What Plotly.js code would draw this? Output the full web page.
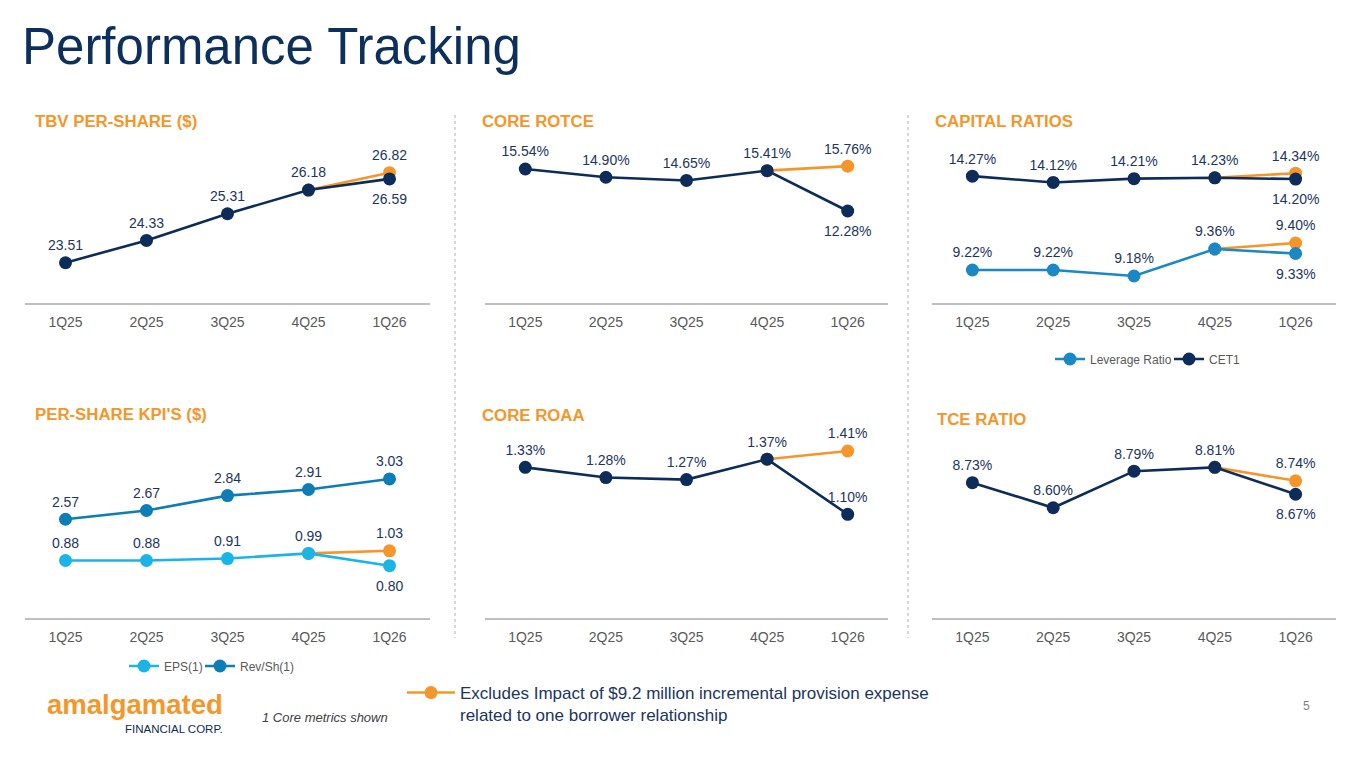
<!DOCTYPE html>
<html>
<head>
<meta charset="utf-8">
<script src="https://cdn.plot.ly/plotly-3.0.1.min.js"></script>
<style>html,body{margin:0;padding:0;background:#fff;}#chart{width:1365px;height:768px;}</style>
</head>
<body>
<div id="chart"></div>
<script>
// ---------- data ----------
const quarters = ['1Q25', '2Q25', '3Q25', '4Q25', '1Q26'];
const exclQuarters = ['4Q25', '1Q26'];

const tbv = [23.51, 24.33, 25.31, 26.18, 26.59];
const tbvExcl = [26.18, 26.82];

const rotce = [15.54, 14.90, 14.65, 15.41, 12.28];
const rotceExcl = [15.41, 15.76];

const cet1 = [14.27, 14.12, 14.21, 14.23, 14.20];
const cet1Excl = [14.23, 14.34];
const leverage = [9.22, 9.22, 9.18, 9.36, 9.33];
const leverageExcl = [9.36, 9.40];

const eps = [0.88, 0.88, 0.91, 0.99, 0.80];
const epsExcl = [0.99, 1.03];
const revSh = [2.57, 2.67, 2.84, 2.91, 3.03];

const roaa = [1.33, 1.28, 1.27, 1.37, 1.10];
const roaaExcl = [1.37, 1.41];

const tce = [8.73, 8.60, 8.79, 8.81, 8.67];
const tceExcl = [8.81, 8.74];

const panelTitles = ['TBV PER-SHARE ($)', 'CORE ROTCE', 'CAPITAL RATIOS', "PER-SHARE KPI'S ($)", 'CORE ROAA', 'TCE RATIO'];
const legendNames = {eps: 'EPS(1)', rev: 'Rev/Sh(1)', lev: 'Leverage Ratio', cet1: 'CET1',
  excl: 'Excludes Impact of $9.2 million incremental provision expense<br>related to one borrower relationship'};

// ---------- style ----------
const W = 1365, H = 768;
const FONT = 'Arial, "Liberation Sans", Helvetica, sans-serif';
const NAVY = '#0d2c59';
const LABEL = '#1c355e';
const ORANGE = '#f5962a';
const EPSC = '#1ab4e8';
const REVC = '#0c7db5';
const LEVC = '#1a88c4';
const GRAY = '#595959';
const px = v => v / W;
const py = v => 1 - v / H;

const colX = [[25, 430], [485, 888], [932, 1336]];
const topY = [303, 140];
const botY = [618, 430];

const annotations = [];

function line(xa, ya, xs, ys, color, fmt, labelBelowLast, opts) {
  const n = xs.length;
  const tmpl = xs.map((q, i) => (labelBelowLast && i === n - 1) ? '' : fmt);
  if (labelBelowLast) {
    // value label placed under the final point, positioned in data coordinates
    annotations.push({
      xref: xa, yref: ya, x: xs[n - 1], y: ys[n - 1], yshift: -20,
      text: fmt.replace('%{y:.2f}', ys[n - 1].toFixed(2)),
      showarrow: false, xanchor: 'center', yanchor: 'middle',
      font: {family: FONT, size: 14, color: LABEL}
    });
  }
  return Object.assign({
    type: 'scatter', mode: 'lines+markers+text',
    x: xs, y: ys, xaxis: xa, yaxis: ya,
    line: {color: color, width: 2.6},
    marker: {color: color, size: 13},
    texttemplate: tmpl, textposition: 'top center',
    textfont: {family: FONT, size: 14, color: LABEL},
    cliponaxis: false, showlegend: false, hoverinfo: 'skip'
  }, opts || {});
}
const pct = '%{y:.2f}%', dol = '%{y:.2f}';
const exclFmt = f => ['', f];

const traces = [
  // TBV
  line('x', 'y', exclQuarters, tbvExcl, ORANGE, dol, false, {texttemplate: exclFmt(dol)}),
  line('x', 'y', quarters, tbv, NAVY, dol, true),
  // ROTCE
  line('x2', 'y2', exclQuarters, rotceExcl, ORANGE, pct, false, {texttemplate: exclFmt(pct)}),
  line('x2', 'y2', quarters, rotce, NAVY, pct, true),
  // Capital ratios
  line('x3', 'y4', exclQuarters, leverageExcl, ORANGE, pct, false, {texttemplate: exclFmt(pct)}),
  line('x3', 'y4', quarters, leverage, LEVC, pct, true, {name: legendNames.lev, showlegend: true, legend: 'legend'}),
  line('x3', 'y3', exclQuarters, cet1Excl, ORANGE, pct, false, {texttemplate: exclFmt(pct)}),
  line('x3', 'y3', quarters, cet1, NAVY, pct, true, {name: legendNames.cet1, showlegend: true, legend: 'legend'}),
  // Per-share KPIs
  line('x5', 'y6', exclQuarters, epsExcl, ORANGE, dol, false, {texttemplate: exclFmt(dol), name: legendNames.excl, showlegend: true, legend: 'legend3'}),
  line('x5', 'y6', quarters, eps, EPSC, dol, true, {name: legendNames.eps, showlegend: true, legend: 'legend2'}),
  line('x5', 'y5', quarters, revSh, REVC, dol, false, {name: legendNames.rev, showlegend: true, legend: 'legend4'}),
  // ROAA
  line('x7', 'y7', exclQuarters, roaaExcl, ORANGE, pct, false, {texttemplate: exclFmt(pct)}),
  line('x7', 'y7', quarters, roaa, NAVY, pct, false),
  // TCE
  line('x8', 'y8', exclQuarters, tceExcl, ORANGE, pct, false, {texttemplate: exclFmt(pct)}),
  line('x8', 'y8', quarters, tce, NAVY, pct, true)
];

function xax(col, anchor) {
  return {
    domain: [px(colX[col][0]), px(colX[col][1])], anchor: anchor,
    type: 'category', categoryorder: 'array', categoryarray: quarters,
    range: [-0.5, 4.5], fixedrange: true,
    showline: true, linecolor: '#bfbfbf', linewidth: 1.5,
    showgrid: false, zeroline: false,
    ticks: 'outside', ticklen: 6, tickcolor: 'rgba(0,0,0,0)',
    tickfont: {family: FONT, size: 14, color: GRAY}
  };
}
function yax(row, anchor, range, overlay) {
  const d = row === 0 ? topY : botY;
  const a = {
    domain: [py(d[0]), py(d[1])], anchor: anchor, range: range,
    visible: false, showgrid: false, zeroline: false, fixedrange: true
  };
  if (overlay) { a.overlaying = overlay; delete a.domain; }
  return a;
}

function ann(text, x, y, size, color, extra) {
  annotations.push(Object.assign({
    text: text, x: px(x), y: py(y), xref: 'paper', yref: 'paper',
    xanchor: 'left', yanchor: 'middle', showarrow: false,
    font: {family: FONT, size: size, color: color}
  }, extra || {}));
}
const titleFont = {family: FONT, size: 16.8, color: ORANGE, weight: 700};
ann('Performance Tracking', 20, 47, 51, '#0c2f5c');
ann(panelTitles[0], 33, 122, 16.8, ORANGE, {font: titleFont});
ann(panelTitles[1], 480, 122, 16.8, ORANGE, {font: titleFont});
ann(panelTitles[2], 933, 122, 16.8, ORANGE, {font: titleFont});
ann(panelTitles[3], 33, 414, 16.8, ORANGE, {font: titleFont});
ann(panelTitles[4], 480, 415, 16.8, ORANGE, {font: titleFont});
ann(panelTitles[5], 935, 419, 16.8, ORANGE, {font: titleFont});
ann('amalgamated', 45, 704, 27.5, ORANGE, {font: {family: FONT, size: 27.5, color: ORANGE, weight: 700}});
ann('FINANCIAL CORP.', 225, 729, 11.5, NAVY, {xanchor: 'right'});
ann('1 Core metrics shown', 260, 717, 13, '#404040', {font: {family: FONT, size: 13, color: '#404040', style: 'italic'}});
ann('5', 1306, 706, 12, '#7f7f7f', {xanchor: 'center'});

const shapes = [455, 908].map(x => ({
  type: 'line', xref: 'paper', yref: 'paper',
  x0: px(x), x1: px(x), y0: py(115), y1: py(638),
  line: {color: '#b0b0b0', width: 1, dash: 'dot'}
}));

const legendFont = {family: FONT, size: 12, color: GRAY};
const legBase = {orientation: 'h', xanchor: 'left', yanchor: 'middle', font: legendFont,
  bgcolor: 'rgba(0,0,0,0)', traceorder: 'normal'};
const layout = {
  width: W, height: H,
  margin: {l: 0, r: 0, t: 0, b: 0},
  paper_bgcolor: '#fff', plot_bgcolor: 'rgba(0,0,0,0)',
  font: {family: FONT},
  xaxis: xax(0, 'y'), yaxis: yax(0, 'x', [22.03, 28.02]),
  xaxis2: xax(1, 'y2'), yaxis2: yax(0, 'x2', [5.14, 17.79]),
  xaxis3: xax(2, 'y3'), yaxis3: yax(0, 'x3', [11.25, 15.13]),
  yaxis4: yax(0, 'x3', [9.0, 10.087], 'y3'),
  xaxis5: xax(0, 'y5'), yaxis5: yax(1, 'x5', [1.443, 3.589]),
  yaxis6: yax(1, 'x5', [-0.01, 2.90], 'y5'),
  xaxis7: xax(1, 'y7'), yaxis7: yax(1, 'x7', [0.592, 1.513]),
  xaxis8: xax(2, 'y8'), yaxis8: yax(1, 'x8', [8.027, 9.004]),
  legend: Object.assign({}, legBase, {x: px(1050), y: py(359), entrywidth: 74}),
  legend2: Object.assign({}, legBase, {x: px(124), y: py(666)}),
  legend4: Object.assign({}, legBase, {x: px(200), y: py(666)}),
  legend3: {orientation: 'v', x: px(402), y: py(704), xanchor: 'left', yanchor: 'middle', itemwidth: 48,
    font: {family: FONT, size: 17, color: '#1c355e'}, valign: 'top', bgcolor: 'rgba(0,0,0,0)'},
  annotations: annotations,
  shapes: shapes,
  hovermode: false
};

Plotly.newPlot('chart', traces, layout, {displayModeBar: false, staticPlot: true});
</script>
</body>
</html>
